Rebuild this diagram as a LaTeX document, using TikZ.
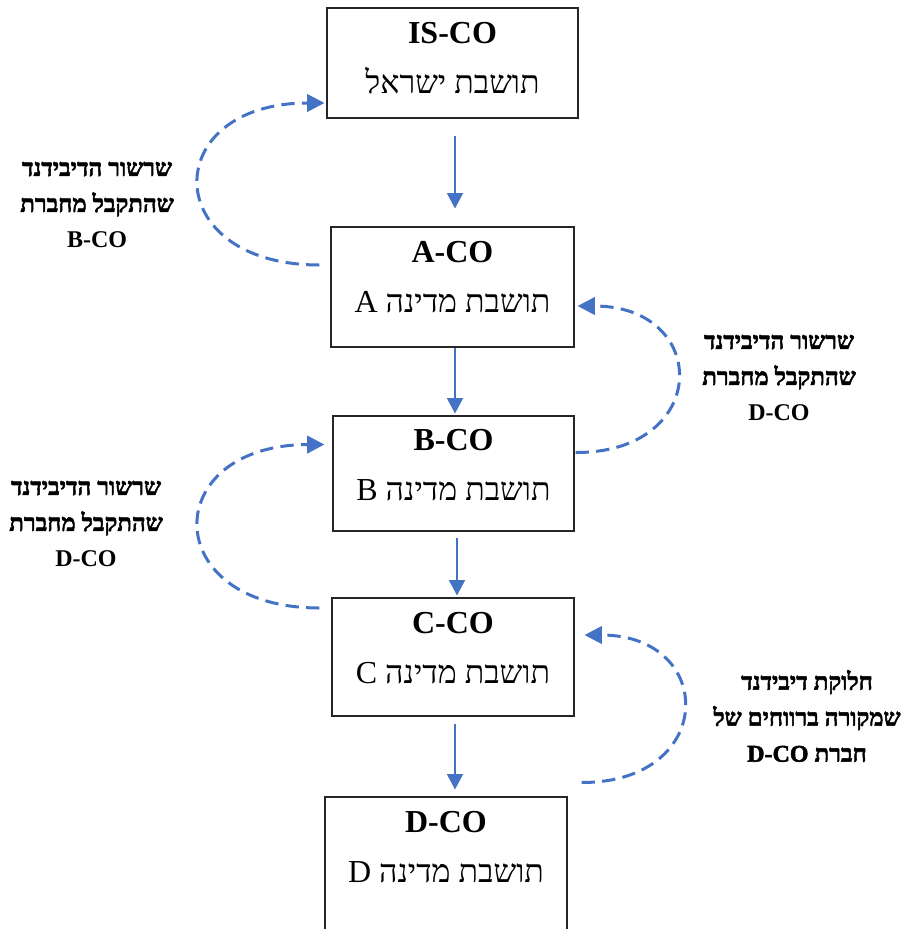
\documentclass[tikz,border=0pt]{standalone}
\usepackage{fontspec}
\setmainfont{Liberation Serif}
\newfontfamily\hebfont[Script=Hebrew,
  BoldFont={Liberation Serif Bold}, BoldFeatures={FakeBold=2.2}]{Liberation Serif}
\TeXXeTstate=1
\usetikzlibrary{arrows.meta,calc}
\definecolor{flowblue}{HTML}{4472C4}
\begin{document}
\begin{tikzpicture}[x=0.75pt,y=-0.75pt,
  cobox/.style={draw=black!85, line width=0.8pt, rectangle, inner sep=0pt},
  cotext/.style={anchor=north, inner sep=0pt, align=center,
    font=\fontsize{24}{37.5}\selectfont},
  sidelabel/.style={inner sep=0pt, align=center,
    font=\fontsize{18}{27}\selectfont\bfseries},
  flow/.style={draw=flowblue, line width=1.1pt,
    -{Triangle[length=11.5pt,width=12pt]}},
  backflow/.style={draw=flowblue, line width=2.25pt,
    dash pattern=on 10pt off 5.5pt,
    -{Triangle[length=13pt,width=13pt]}}]
\useasboundingbox (0,0) rectangle (903,929);

% company boxes
\node[cobox, minimum width=188.25pt, minimum height=82.5pt]  (IS) at (452.5,63)  {};
\node[cobox, minimum width=182.25pt, minimum height=90pt]    (A)  at (452.5,287) {};
\node[cobox, minimum width=180.75pt, minimum height=86.25pt] (B)  at (453.5,473.5) {};
\node[cobox, minimum width=181.5pt,  minimum height=88.5pt]  (C)  at (453,657)   {};
\node[cobox, minimum width=181.5pt,  minimum height=112.5pt] (D)  at (446,872)   {};

% box contents
\node[cotext] (IStxt) at ($(IS.north)+(0,15)$) {\textbf{IS-CO}\\{\hebfont\beginR תושבת ישראל\endR}};
\node[cotext] (Atxt)  at ($(A.north)+(0,15)$)  {\textbf{A-CO}\\{\hebfont\beginR תושבת מדינה A\endR}};
\node[cotext] (Btxt)  at ($(B.north)+(0,14)$)  {\textbf{B-CO}\\{\hebfont\beginR תושבת מדינה B\endR}};
\node[cotext] (Ctxt)  at ($(C.north)+(0,15)$)  {\textbf{C-CO}\\{\hebfont\beginR תושבת מדינה C\endR}};
\node[cotext] (Dtxt)  at ($(D.north)+(0,15)$)  {\textbf{D-CO}\\{\hebfont\beginR תושבת מדינה D\endR}};

% ownership chain
\draw[flow] ($(IS.south)+(2.5,17)$) -- ($(A.north)+(2.5,-18)$);
\draw[flow] ($(A.south)+(2.5,0)$)   -- ($(B.north)+(1.5,-2)$);
\draw[flow] ($(B.south)+(3.5,6)$)   -- ($(C.north)+(4,-2)$);
\draw[flow] ($(C.south)+(2,7)$)     -- ($(D.north)+(9,-7)$);

% dividend flows back up the chain
\draw[backflow] ($(A.west)+(-11,-22)$) .. controls (158,265) and (158,103) .. ($(IS.west)+(-2,40)$);
\draw[backflow] ($(B.east)+(1,-21)$) .. controls (711,453) and (711,306) .. ($(A.east)+(3,19)$);
\draw[backflow] ($(C.west)+(-12,-49)$) .. controls (158,608) and (158,445) .. ($(B.west)+(-8,-29)$);
\draw[backflow] ($(D.north east)+(14,-14)$) .. controls (717,783) and (717,635) .. ($(C.east)+(10,-22)$);

% flow labels
\node[sidelabel] (lblIS) at (97,205)
  {\hebfont\beginR שרשור הדיבידנד\endR\\\hebfont\beginR שהתקבל מחברת\endR\\B-CO};
\node[sidelabel] (lblAB) at (779,378)
  {\hebfont\beginR שרשור הדיבידנד\endR\\\hebfont\beginR שהתקבל מחברת\endR\\D-CO};
\node[sidelabel] (lblBC) at (86,524)
  {\hebfont\beginR שרשור הדיבידנד\endR\\\hebfont\beginR שהתקבל מחברת\endR\\D-CO};
\node[sidelabel] (lblCD) at (807,716)
  {\hebfont\beginR חלוקת דיבידנד\endR\\\hebfont\beginR שמקורה ברווחים של\endR\\\hebfont\beginR חברת \beginL D-CO\endL\endR};
\end{tikzpicture}
\end{document}
